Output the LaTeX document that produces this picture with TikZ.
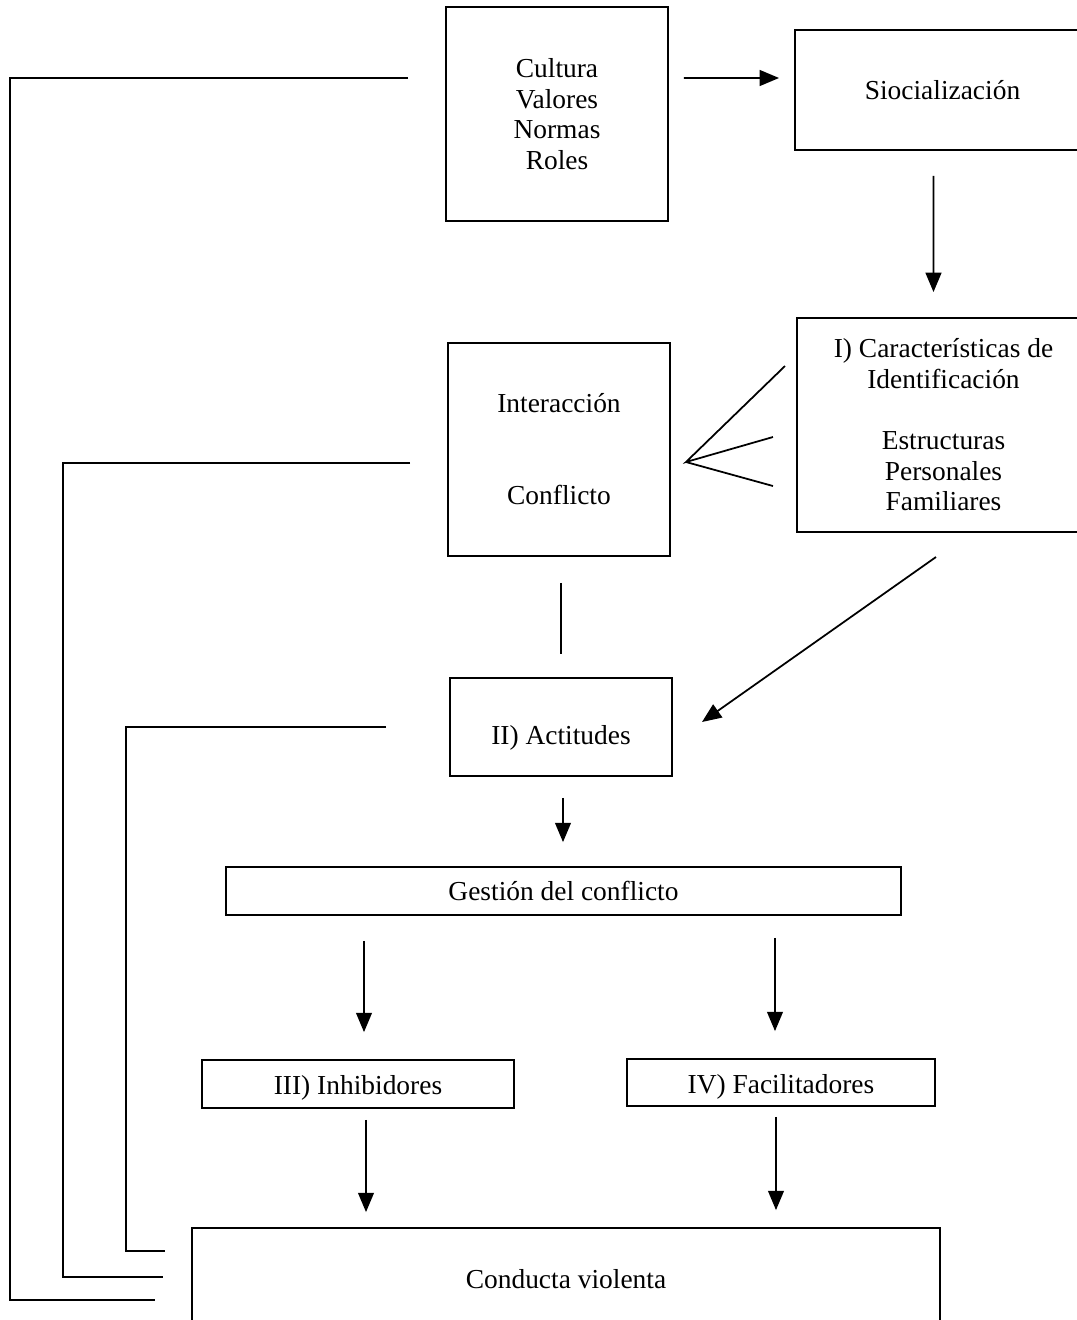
\documentclass[tikz,border=0pt]{standalone}
\usepackage{fontspec}
\setmainfont{Liberation Serif}
\usetikzlibrary{arrows.meta}

\begin{document}
\begin{tikzpicture}[x=0.01cm, y=-0.01cm, line width=0.5pt,
        caja/.style={draw, align=center, inner sep=0pt, font=\fontsize{7.8}{8.7}\selectfont},
        flecha/.style={-{Triangle[length=5.5pt,width=4.5pt]}}]
        \clip (0,0) rectangle (1077,1320);

        % cajas
        \node[caja, minimum width=2.22cm, minimum height=2.14cm] (cult) at (557,114) {Cultura\\Valores\\Normas\\Roles};
        \node[caja, minimum width=2.95cm, minimum height=1.2cm] (sio) at (942.5,90) {Siocialización};
        \node[caja, minimum width=2.93cm, minimum height=2.14cm] (car) at (943.5,425) {I) Características de\\Identificación\\[8.7pt]Estructuras\\Personales\\Familiares};
        \node[caja, minimum width=2.22cm, minimum height=2.13cm] (int) at (559,449.5) {Interacción\\[17.5pt]Conflicto};
        \node[caja, minimum width=2.22cm, minimum height=0.98cm] (act) at (561,727) {\raisebox{-0.11cm}[\height][\depth]{II) Actitudes}};
        \node[caja, minimum width=6.75cm, minimum height=0.48cm] (gest) at (563.5,891) {Gestión del conflicto};
        \node[caja, minimum width=3.12cm, minimum height=0.48cm] (inh) at (358,1084) {\raisebox{-0.04cm}[\height][\depth]{III) Inhibidores}};
        \node[caja, minimum width=3.08cm, minimum height=0.47cm] (fac) at (781,1082.5) {\raisebox{-0.04cm}[\height][\depth]{IV) Facilitadores}};
        \node[caja, minimum width=7.48cm, minimum height=1.02cm] (con) at (566,1279) {Conducta violenta};

        % flechas
        \draw[flecha, shorten <=0.15cm, shorten >=0.15cm] ([yshift=0.36cm]cult.east) -- ([yshift=0.12cm]sio.west);
        \draw[flecha, shorten <=0.25cm, shorten >=0.25cm] ([xshift=-0.09cm]sio.south) -- ([xshift=-0.1cm]car.north);
        \draw[shorten <=0.26cm, shorten >=0.23cm] (int.south -| act.north) -- (act.north);
        \draw[flecha, shorten <=0.21cm, shorten >=0.24cm] ([xshift=0.02cm]act.south) -- ([xshift=0.02cm]gest.north -| act.south);
        \draw[flecha, shorten <=0.25cm, shorten >=0.27cm] ([xshift=0.06cm]inh.north |- gest.south) -- ([xshift=0.06cm]inh.north);
        \draw[flecha, shorten <=0.22cm, shorten >=0.27cm] ([xshift=-0.06cm]fac.north |- gest.south) -- ([xshift=-0.06cm]fac.north);
        \draw[flecha, shorten <=0.11cm, shorten >=0.15cm] ([xshift=0.08cm]inh.south) -- ([xshift=0.08cm]inh.south |- con.north);
        \draw[flecha, shorten <=0.1cm, shorten >=0.17cm] ([xshift=-0.05cm]fac.south) -- ([xshift=-0.05cm]fac.south |- con.north);

        \coordinate (d1) at (936,557);
        \coordinate (d2) at (702,722);
        \draw[flecha] (d1) -- (d2);

        % abanico
        \coordinate (fan) at (686,462);
        \coordinate (f1) at (785,366);
        \coordinate (f2) at (773,437);
        \coordinate (f3) at (773,486);
        \draw (f1) -- (fan) -- (f2);
        \draw (fan) -- (f3);

        % retornos
        \coordinate (r1) at (408,78);
        \coordinate (r1b) at (155,1300);
        \coordinate (r2) at (410,463);
        \coordinate (r2b) at (163,1277);
        \coordinate (r3) at (386,727);
        \coordinate (r3b) at (165,1251);
        \draw (r1) -- ++(-398,0) |- (r1b);
        \draw (r2) -- ++(-347,0) |- (r2b);
        \draw (r3) -- ++(-260,0) |- (r3b);
\end{tikzpicture}
\end{document}
